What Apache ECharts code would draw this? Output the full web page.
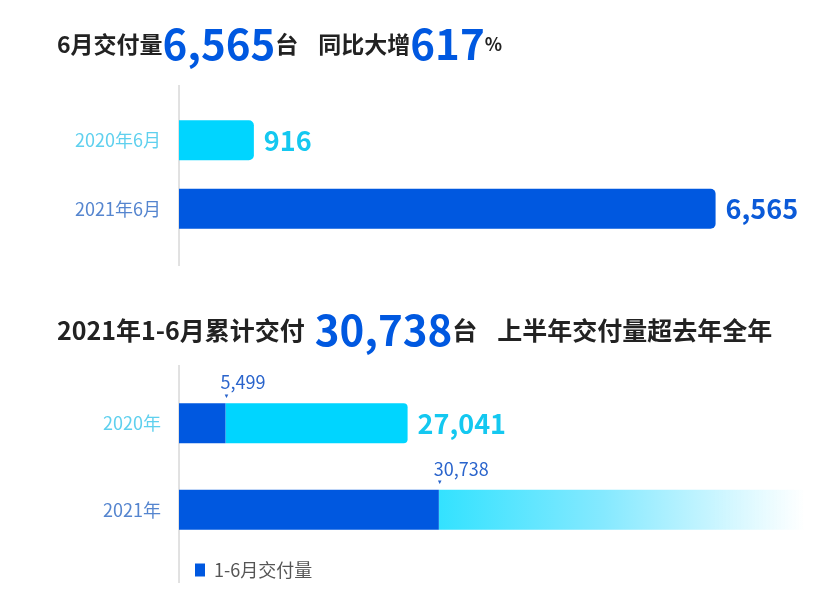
<!DOCTYPE html>
<html lang="zh">
<head>
    <meta charset="UTF-8">
    <title>交付量</title>
    <script src="https://cdn.jsdelivr.net/npm/echarts@6/dist/echarts.min.js"></script>
</head>
<body style="padding: 0; margin: 0; background: #fff">
    <div id="main" style="width: 820px; height: 611px;"></div>
<script>
    // 6月交付
    var juneCats = ['2020年6月', '2021年6月'];
    var juneValues = [916, 6565];
    var growthPct = 617;
    // 1-6月 / 全年
    var halfCats = ['2020年', '2021年'];
    var h1Values = [5499, 30738];
    var fullYear = [27041, null];
    var h2Values = [27041 - 5499, '-'];
    var fadeValues = ['-', 43300];

    var BLUE = '#0058e0', CYAN = '#00d5ff';
    var FONT = 'Noto Sans CJK SC';

    function fmt(n) {
        return String(n).replace(/\B(?=(\d{3})+(?!\d))/g, ',');
    }

    var myChart = echarts.init(document.getElementById('main'));

    var catColors = ['#5fd0ee', '#5585cf'];
    var barColors = [CYAN, BLUE];
    var lblColors = ['#14c8f0', '#0b5ad8'];

    function rich(sz, gap) {
        return {
            a: { fontFamily: FONT, fontSize: sz, fontWeight: 'bold', color: '#222' },
            b: { fontFamily: FONT, fontSize: 42, fontWeight: 'bold', color: BLUE },
            c: { fontFamily: FONT, fontSize: 18, fontWeight: 'bold', color: '#222' },
            s: { fontSize: sz, width: gap }
        };
    }

    option = {
        animation: false,
        title: [
            {
                left: 52, top: 18,
                text: '{a|6月交付量}{b|' + fmt(juneValues[1]) + '}{a|台}{s|}{a|同比大增}{b|' + growthPct + '}{c|%}',
                textStyle: { rich: rich(23, 20) }
            },
            {
                left: 52, top: 304,
                text: '{a|2021年1-6月累计交付}{s|}{b|' + fmt(h1Values[1]) + '}{a|台}{s|}{s|}{a|上半年交付量超去年全年}',
                textStyle: { rich: rich(25, 10) }
            }
        ],
        legend: {
            left: 190, top: 556,
            itemWidth: 10, itemHeight: 13,
            itemGap: 10,
            data: [{ name: '1-6月交付量', icon: 'rect' }],
            textStyle: { fontFamily: FONT, fontSize: 18, color: '#555', padding: [0, 0, 0, 4] }
        },
        graphic: [
            { type: 'line', shape: { x1: 179, y1: 85, x2: 179, y2: 266 }, style: { stroke: '#c4c4c4', lineWidth: 1 } },
            { type: 'line', shape: { x1: 179, y1: 365, x2: 179, y2: 583 }, style: { stroke: '#c4c4c4', lineWidth: 1 } }
        ],
        grid: [
            { left: 179, right: 28, top: 106, bottom: 368 },
            { left: 179, right: 7, top: 380, bottom: 58 }
        ],
        xAxis: [
            { gridIndex: 0, type: 'value', min: 0, max: 7500, show: false },
            { gridIndex: 1, type: 'value', min: 0, max: 75000, show: false }
        ],
        yAxis: [
            {
                gridIndex: 0, type: 'category', inverse: true, data: juneCats,
                axisLine: { show: false }, axisTick: { show: false },
                axisLabel: {
                    margin: 18, fontFamily: FONT, fontSize: 18,
                    color: function (v, i) { return catColors[i]; }
                }
            },
            {
                gridIndex: 1, type: 'category', inverse: true, data: halfCats,
                axisLine: { show: false }, axisTick: { show: false },
                axisLabel: {
                    margin: 18, fontFamily: FONT, fontSize: 18,
                    color: function (v, i) { return catColors[i]; }
                }
            }
        ],
        series: [
            {
                type: 'bar', xAxisIndex: 0, yAxisIndex: 0, barWidth: 40,
                data: juneValues.map(function (v, i) {
                    return {
                        value: v,
                        itemStyle: { color: barColors[i], borderRadius: [0, 5, 5, 0] },
                        label: { color: lblColors[i] }
                    };
                }),
                label: {
                    show: true, position: 'right', distance: 10,
                    fontFamily: FONT, fontSize: 27, fontWeight: 'bold',
                    formatter: function (p) { return fmt(p.value); }
                }
            },
            {
                name: '1-6月交付量',
                type: 'bar', xAxisIndex: 1, yAxisIndex: 1, barWidth: 40, stack: 'h',
                itemStyle: { color: BLUE },
                data: h1Values,
                label: {
                    show: true, position: ['100%', 0], align: 'left', verticalAlign: 'bottom',
                    offset: [-5, -3],
                    formatter: function (p) { return '{v|' + fmt(p.value) + '}\n{t|▼}'; },
                    rich: {
                        v: { fontFamily: FONT, fontSize: 18, color: '#2a64cc', lineHeight: 20 },
                        t: { fontSize: 6, color: '#2a64cc', lineHeight: 8, padding: [0, 0, 0, 3] }
                    }
                },
                z: 3
            },
            {
                name: '下半年',
                type: 'bar', xAxisIndex: 1, yAxisIndex: 1, barWidth: 40, stack: 'h',
                itemStyle: { color: CYAN, borderRadius: [0, 4, 4, 0] },
                data: h2Values,
                label: {
                    show: true, position: 'right', distance: 10,
                    fontFamily: FONT, fontSize: 27, fontWeight: 'bold', color: '#14c8f0',
                    formatter: function (p) { return fmt(fullYear[p.dataIndex]); }
                }
            },
            {
                name: '全年',
                type: 'bar', xAxisIndex: 1, yAxisIndex: 1, barWidth: 40, stack: 'h',
                itemStyle: {
                    color: new echarts.graphic.LinearGradient(0, 0, 1, 0, [
                        { offset: 0, color: '#33e2ff' },
                        { offset: 0.45, color: '#85e9ff' },
                        { offset: 0.75, color: '#c8f5ff' },
                        { offset: 1, color: 'rgba(255,255,255,0.9)' }
                    ])
                },
                data: fadeValues
            }
        ]
    };
    myChart.setOption(option);
</script>
</body>
</html>
